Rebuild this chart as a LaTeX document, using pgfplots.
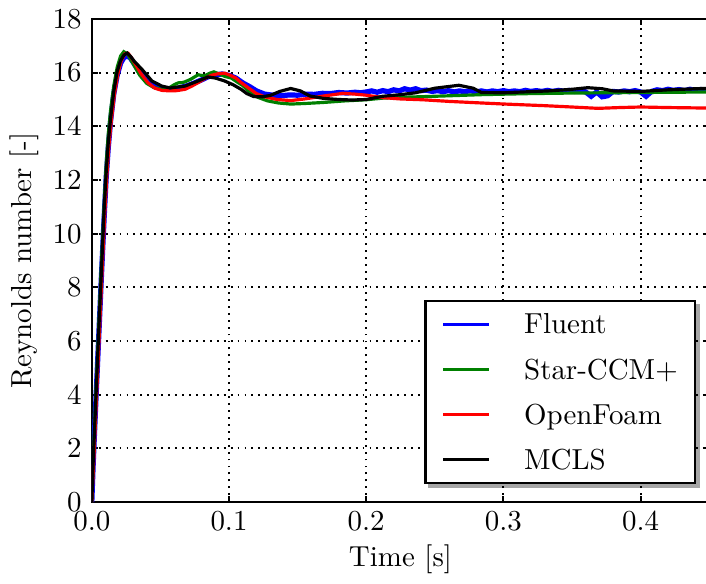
\documentclass[border=0pt]{standalone}
\usepackage{pgfplots}
\pgfplotsset{compat=1.18}
\usepackage{pgfplotstable}
\usetikzlibrary{calc}
\pgfdeclarelayer{shadowlayer}
\pgfsetlayers{shadowlayer,main}

\pgfplotstableread{
x y
0 0
0.001 1.4
0.003 3.8
0.005 6.1
0.007 8.4
0.009 10.6
0.0105 12.1
0.012 13.2
0.0137 14.2
0.016 15.2
0.0185 15.9
0.021 16.35
0.0235 16.57
0.026 16.62
0.028 16.55
0.031 16.33
0.035 16.0
0.040 15.7
0.045 15.52
0.050 15.43
0.055 15.38
0.060 15.38
0.065 15.45
0.070 15.52
0.075 15.62
0.080 15.73
0.085 15.85
0.090 15.92
0.095 15.95
0.100 15.9
0.105 15.8
0.110 15.62
0.115 15.48
0.120 15.32
0.126 15.2
0.132 15.16
0.138 15.14
0.144 15.17
0.150 15.16
0.156 15.2
0.162 15.19
0.168 15.23
0.174 15.22
0.180 15.26
0.186 15.24
0.192 15.27
0.196 15.25
0.200 15.28
0.204 15.32
0.208 15.27
0.212 15.33
0.216 15.29
0.220 15.36
0.224 15.32
0.228 15.40
0.232 15.35
0.236 15.40
0.240 15.33
0.244 15.35
0.248 15.30
0.252 15.33
0.256 15.29
0.260 15.33
0.264 15.28
0.268 15.32
0.272 15.29
0.276 15.33
0.280 15.28
0.284 15.32
0.288 15.28
0.292 15.32
0.296 15.29
0.300 15.33
0.304 15.29
0.308 15.32
0.312 15.29
0.316 15.34
0.320 15.30
0.324 15.33
0.328 15.30
0.332 15.34
0.336 15.30
0.340 15.34
0.344 15.31
0.348 15.34
0.352 15.30
0.356 15.33
0.360 15.28
0.364 15.12
0.368 15.28
0.372 15.10
0.376 15.14
0.380 15.30
0.384 15.28
0.388 15.32
0.392 15.29
0.396 15.33
0.400 15.28
0.404 15.12
0.408 15.30
0.412 15.36
0.416 15.33
0.420 15.38
0.424 15.34
0.428 15.37
0.432 15.33
0.436 15.38
0.440 15.34
0.444 15.37
0.448 15.35
}\fluent

\pgfplotstableread{
x y
0 0
0.001 1.6
0.003 4.1
0.005 6.5
0.007 8.9
0.009 11.1
0.0105 12.6
0.012 13.7
0.0137 14.6
0.016 15.5
0.0185 16.2
0.021 16.62
0.0233 16.78
0.026 16.7
0.028 16.52
0.031 16.25
0.035 15.9
0.040 15.6
0.045 15.45
0.051 15.38
0.056 15.42
0.060 15.55
0.063 15.62
0.066 15.63
0.068 15.66
0.072 15.75
0.0775 15.92
0.082 15.88
0.086 15.98
0.089 16.03
0.093 15.95
0.097 15.86
0.1016 15.8
0.106 15.65
0.110 15.52
0.115 15.28
0.12 15.1
0.128 14.95
0.136 14.87
0.145 14.83
0.155 14.85
0.169 14.89
0.185 14.95
0.2 14.99
0.212 15.05
0.225 15.08
0.25 15.12
0.284 15.18
0.32 15.22
0.35 15.24
0.40 15.26
0.45 15.28
}\starccm

\pgfplotstableread{
x y
0 0
0.0015 1.6
0.0035 4.0
0.0055 6.3
0.0075 8.6
0.0095 10.8
0.011 12.2
0.0125 13.3
0.0142 14.2
0.0165 15.2
0.019 15.95
0.0215 16.45
0.024 16.7
0.0265 16.72
0.029 16.55
0.032 16.3
0.036 15.95
0.041 15.62
0.046 15.42
0.051 15.34
0.057 15.32
0.062 15.33
0.068 15.38
0.073 15.5
0.0775 15.63
0.082 15.77
0.0871 15.9
0.092 15.96
0.0968 15.98
0.101 15.9
0.105 15.8
0.1088 15.63
0.115 15.4
0.120 15.22
0.126 15.1
0.135 15.0
0.145 14.96
0.155 15.02
0.169 15.13
0.183 15.23
0.192 15.2
0.2 15.16
0.212 15.07
0.225 15.02
0.241 14.99
0.26 14.93
0.28 14.88
0.301 14.83
0.33 14.77
0.35 14.72
0.369 14.67
0.385 14.7
0.4 14.72
0.42 14.7
0.45 14.68
}\openfoam

\pgfplotstableread{
x y
0 0
0.001 1.5
0.003 3.9
0.005 6.3
0.007 8.6
0.009 10.9
0.0105 12.3
0.012 13.4
0.0137 14.3
0.016 15.3
0.0185 16.05
0.021 16.45
0.0235 16.66
0.0258 16.73
0.028 16.62
0.031 16.42
0.0366 16.12
0.0438 15.69
0.051 15.5
0.057 15.43
0.0679 15.5
0.0775 15.69
0.0847 15.84
0.090 15.8
0.0968 15.69
0.103 15.55
0.1088 15.38
0.113 15.22
0.118 15.11
0.124 15.1
0.13 15.15
0.137 15.3
0.145 15.41
0.152 15.32
0.159 15.13
0.169 15.04
0.18 15.0
0.19 14.98
0.2 15.0
0.212 15.12
0.225 15.18
0.236 15.25
0.25 15.42
0.2676 15.53
0.278 15.42
0.284 15.26
0.3 15.25
0.333 15.32
0.35 15.38
0.3615 15.44
0.372 15.4
0.38 15.32
0.4 15.3
0.42 15.36
0.45 15.42
}\mcls

\begin{document}
\begin{tikzpicture}
\begin{axis}[
  scale only axis,
  width=213.4pt, height=167pt,
  xmin=0, xmax=0.45, ymin=0, ymax=18,
  xtick={0,0.1,0.2,0.3,0.4},
  ytick={0,2,4,6,8,10,12,14,16,18},
  xticklabel style={/pgf/number format/.cd, fixed, fixed zerofill, precision=1},
  xlabel={Time [s]},
  ylabel={Reynolds number [-]},
  xlabel style={yshift=2pt},
  ylabel style={yshift=-2pt},
  axis line style={line width=0.85pt},
  major tick length=2.2pt,
  tick style={black, line width=0.7pt},
  grid=major,
  major grid style={black, line width=0.65pt, dash pattern=on 0.65pt off 1.75pt},
  legend style={name=leg, at={(axis description cs:1,0)}, anchor=south east,
    xshift=-4.4pt, yshift=6.2pt, draw=black, line width=0.9pt, fill=white,
    font=\normalsize, inner xsep=4pt, inner ysep=1.5pt, row sep=2.6pt, column sep=9.5pt,
    nodes={text height=7.8pt, text depth=1.2pt}},
  legend cell align=left,
  legend image code/.code={\path[draw=none] (0pt,0pt) -- (2pt,0pt); \draw[#1, line width=1.1pt] (2pt,0pt) -- (18pt,0pt);},
  every axis plot/.append style={line width=1.1pt},
]
\addplot[blue, line width=1.8pt] table {\fluent};
\addlegendentry{Fluent}
\addplot[green!50!black] table {\starccm};
\addlegendentry{Star-CCM+}
\addplot[red] table {\openfoam};
\addlegendentry{OpenFoam}
\addplot[black] table {\mcls};
\addlegendentry{MCLS}
\end{axis}
\begin{pgfonlayer}{shadowlayer}
\fill[black!35] ([xshift=1.3pt,yshift=-1.3pt]leg.south west) rectangle ([xshift=1.3pt,yshift=-1.3pt]leg.north east);
\end{pgfonlayer}
\pgfresetboundingbox
\path let \p1=(current axis.outer south west), \p2=(current axis.outer north east), \p3=(current axis.south east) in [use as bounding box] (\x1,\y1) rectangle (\x3-1.1pt,\y2);
\end{tikzpicture}
\end{document}
